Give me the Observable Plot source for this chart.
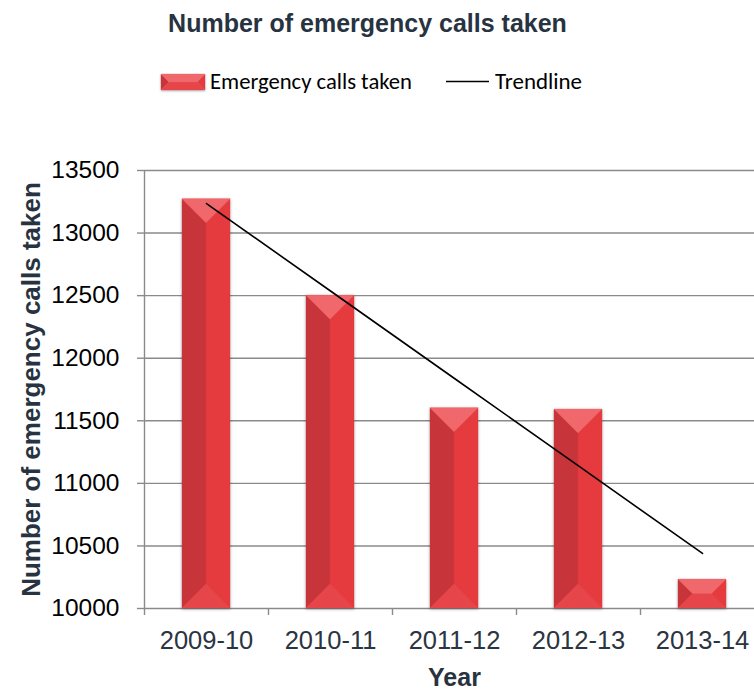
<!DOCTYPE html>
<html><head><meta charset="utf-8">
<script src="https://cdn.jsdelivr.net/npm/d3@7"></script>
<script src="https://cdn.jsdelivr.net/npm/@observablehq/plot@0.6"></script>
<style>
body{margin:0;background:#fff;}
#wrap{position:relative;width:754px;height:693px;overflow:hidden;}
#header{display:block;}
#chart svg{display:block;}
</style></head><body>
<div id="wrap"><svg id="header" width="754" height="150"></svg><div id="chart"></div></div>
<script>
// ---- data ----
const years = ["2009-10", "2010-11", "2011-12", "2012-13", "2013-14"];
const calls = [13270, 12500, 11600, 11590, 10230];
const yTicks = [10000, 10500, 11000, 11500, 12000, 12500, 13000, 13500];
const chartTitle = "Number of emergency calls taken";
const xLabel = "Year";
const yLabel = "Number of emergency calls taken";
const seriesName = "Emergency calls taken";
const trendName = "Trendline";

// ---- derived ----
const data = years.map((year, i) => ({year, calls: calls[i]}));
const n = calls.length;
const mx = d3.mean(d3.range(n)), my = d3.mean(calls);
const slope = d3.sum(calls, (v, i) => (i - mx) * (v - my)) / d3.sum(d3.range(n), i => (i - mx) ** 2);
const intercept = my - slope * mx;
const trend = years.map((year, i) => ({year, value: intercept + slope * i}));

const xRange = [144, 764];
const step = (xRange[1] - xRange[0]) / years.length;
const gridColor = "#8a8a8a";
const dark = "#283341";
const faces = {top: "#f0686b", left: "#c7353a", right: "#e53a3e", bottom: "#e6464a", front: "#e03a3e"};

function bevel(parent, x, y, w, h) {
  const d = Math.min(w / 2, h / 2);
  const x1 = x + w, y1 = y + h;
  const polys = [
    ["front", [[x + d, y + d], [x1 - d, y + d], [x1 - d, y1 - d], [x + d, y1 - d]]],
    ["left", [[x, y], [x + d, y + d], [x + d, y1 - d], [x, y1]]],
    ["right", [[x1, y], [x1, y1], [x1 - d, y1 - d], [x1 - d, y + d]]],
    ["bottom", [[x, y1], [x1, y1], [x1 - d, y1 - d], [x + d, y1 - d]]],
    ["top", [[x, y], [x1, y], [x1 - d, y + d], [x + d, y + d]]]
  ];
  for (const [k, pts] of polys) {
    d3.select(parent).append("polygon")
      .attr("points", pts.map(p => p.join(",")).join(" "))
      .attr("fill", faces[k]).attr("stroke", faces[k]).attr("stroke-width", 0.3);
  }
}

const plot = Plot.plot({
  width: 754,
  height: 543,
  marginLeft: 144,
  marginRight: -10,
  marginTop: 20,
  marginBottom: 85,
  style: {fontFamily: "'Liberation Sans', Arial, sans-serif", background: "transparent"},
  x: {domain: years, range: xRange, paddingInner: 0.613, paddingOuter: 0.3065},
  y: {domain: [yTicks[0], yTicks[yTicks.length - 1]]},
  marks: [
    Plot.gridY(yTicks, {stroke: gridColor, strokeOpacity: 1, strokeWidth: 1.4}),
    Plot.ruleX([years[0]], {dx: -step / 2, stroke: gridColor, strokeWidth: 1.4}),
    Plot.axisY(yTicks, {tickSize: 7, tickPadding: 18, stroke: gridColor, strokeWidth: 1.4, fill: "black", fontSize: 24.5, label: null, tickFormat: d => String(d)}),
    Plot.axisX({tickSize: 7, dx: -step / 2, stroke: gridColor, strokeWidth: 1.4, tickFormat: () => "", label: null}),
    Plot.axisX({tickSize: 0, tickPadding: 22, fill: "#2b3542", fontSize: 25.5, label: null}),
    Plot.barY(data, {x: "year", y1: yTicks[0], y2: "calls", fill: faces.right, className: "bevel-bars"}),
    Plot.line(trend, {x: "year", y: "value", stroke: "black", strokeWidth: 1.6}),
    Plot.text([yLabel], {frameAnchor: "left", dx: -113, rotate: -90, textAnchor: "middle", lineAnchor: "middle", fontSize: 26, fontWeight: "bold", fill: dark}),
    Plot.text([xLabel], {frameAnchor: "bottom", dy: 69, textAnchor: "middle", lineAnchor: "middle", fontSize: 25, fontWeight: "bold", fill: dark})
  ]
});
document.getElementById("chart").appendChild(plot);

// bevel decoration on bars drawn by Plot
d3.select(plot).selectAll("g.bevel-bars rect").each(function() {
  const r = this;
  const x = +r.getAttribute("x"), y = +r.getAttribute("y");
  const w = +r.getAttribute("width"), h = +r.getAttribute("height");
  const holder = document.createElementNS("http://www.w3.org/2000/svg", "g");
  r.parentNode.insertBefore(holder, r.nextSibling);
  bevel(holder, x, y, w, h);
});
d3.select(plot).selectAll("g.bevel-bars").style("filter", "drop-shadow(0px 1px 1.5px rgba(0,0,0,0.35))");

// ---- header: title + legend ----
const hdr = d3.select("#header");
hdr.append("text").attr("x", 367.5).attr("y", 32).attr("text-anchor", "middle")
  .attr("font-family", "'Liberation Sans', Arial, sans-serif").attr("font-weight", "bold")
  .attr("font-size", 25).attr("fill", dark).text(chartTitle);
const sw = hdr.append("g").style("filter", "drop-shadow(0px 1px 1px rgba(0,0,0,0.3))").node();
bevel(sw, 161, 74, 44, 16);
hdr.append("text").attr("x", 210).attr("y", 89)
  .attr("font-family", "Carlito, Lato, 'Open Sans', sans-serif").attr("font-size", 22)
  .attr("textLength", 202).attr("lengthAdjust", "spacingAndGlyphs").attr("fill", "black").text(seriesName);
hdr.append("line").attr("x1", 446).attr("x2", 489).attr("y1", 81.5).attr("y2", 81.5)
  .attr("stroke", "black").attr("stroke-width", 1.6);
hdr.append("text").attr("x", 495).attr("y", 89)
  .attr("font-family", "Carlito, Lato, 'Open Sans', sans-serif").attr("font-size", 22)
  .attr("textLength", 87).attr("lengthAdjust", "spacingAndGlyphs").attr("fill", "black").text(trendName);
</script>
</body></html>
